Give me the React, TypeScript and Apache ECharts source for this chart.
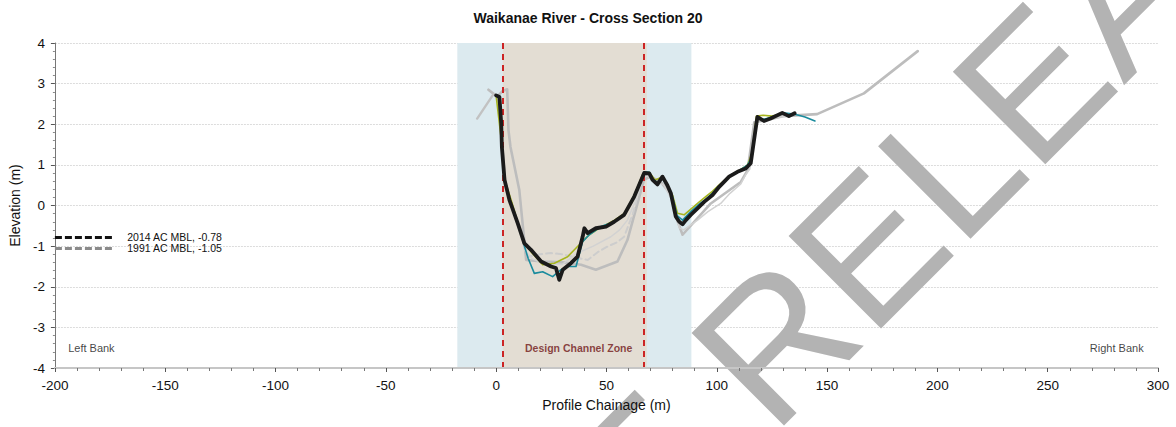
import React, { useEffect, useRef } from "react";
import * as echarts from "echarts";

const FONT = "'Liberation Sans', Arial, Helvetica, sans-serif";

// ---- data ----
const titleText = "Waikanae River - Cross Section 20";
const xAxisName = "Profile Chainage (m)";
const yAxisName = "Elevation (m)";

const survey2014: number[][] = [
  [0, 2.71], [1.5, 2.67], [2.3, 2.02], [2.6, 1.44], [3.8, 0.63], [6.0, 0.14], [9.8, -0.44],
  [12.8, -0.93], [15.8, -1.09], [20.4, -1.38], [24.9, -1.5], [27.1, -1.54], [28.6, -1.83],
  [30.2, -1.58], [33.9, -1.42], [36.9, -1.26], [39.2, -0.77], [40.0, -0.56], [41.5, -0.68],
  [45.2, -0.56], [49.8, -0.52], [53.5, -0.4], [58.0, -0.23], [62.6, 0.22], [67.1, 0.8],
  [69.4, 0.79], [70.9, 0.63], [73.1, 0.52], [75.4, 0.71], [77.6, 0.5], [79.2, 0.3],
  [81.4, -0.27], [83.0, -0.4], [84.5, -0.46], [86.0, -0.36], [88.2, -0.23], [91.3, -0.07],
  [94.3, 0.09], [98.1, 0.26], [101.1, 0.46], [105.6, 0.71], [109.4, 0.83], [113.1, 0.91],
  [115.4, 1.04], [118.4, 2.18], [121.4, 2.08], [124.4, 2.14], [129.7, 2.28], [132.7, 2.2],
  [135.3, 2.27],
];

const surveyTeal: number[][] = [
  [0, 2.7], [1.5, 2.65], [2.6, 1.4], [3.8, 0.6], [6.2, 0.1], [10, -0.45], [12.8, -1.0],
  [14.5, -1.3], [17.3, -1.67], [21.1, -1.63], [25.6, -1.75], [29.4, -1.58], [32.4, -1.5],
  [36.2, -1.5], [39.2, -0.89], [42.2, -0.72], [47.5, -0.52], [53.5, -0.4], [58, -0.23],
  [62.6, 0.25], [67.1, 0.83], [69.4, 0.82], [71, 0.65], [73.5, 0.55], [75.4, 0.68], [78, 0.45],
  [80, 0.2], [82, -0.25], [84.5, -0.36], [88.2, -0.15], [91.3, 0.0], [95, 0.15], [98, 0.3],
  [101, 0.48], [105.6, 0.72], [110, 0.85], [114, 1.0], [116, 1.2], [118.4, 2.15], [121.4, 2.12],
  [125, 2.18], [130, 2.28], [135, 2.25], [140, 2.18], [144.5, 2.08],
];

const surveyOlive: number[][] = [
  [0, 2.7], [2.6, 1.5], [4, 0.6], [7, 0.1], [10, -0.45], [13, -0.95], [16, -1.15],
  [21.1, -1.46], [26.4, -1.42], [32.4, -1.26], [36.9, -1.01], [42.2, -0.72], [47, -0.55],
  [53.5, -0.37], [58, -0.2], [62.6, 0.25], [66.5, 0.78], [69.4, 0.82], [72, 0.63], [75.4, 0.7],
  [78, 0.45], [80, 0.25], [82.2, -0.19], [85.2, -0.23], [88, -0.1], [91.3, 0.05], [95, 0.22],
  [98, 0.35], [101, 0.5], [105.6, 0.72], [110, 0.86], [114, 1.0], [116, 1.3], [118, 2.2],
  [121, 2.22], [125, 2.2], [130, 2.26], [133.5, 2.25],
];

const survey1991: number[][] = [
  [-3.5, 2.85], [0.5, 2.68], [3, 2.82], [5, 2.86], [5.6, 1.85], [6.5, 1.44], [10.5, 0.38],
  [13.6, -1.34], [21.1, -1.38], [30, -1.4], [38.5, -1.46], [45.2, -1.58], [55, -1.38],
  [59.5, -0.85], [67, 0.63], [70, 0.72], [75, 0.55], [79, 0.3], [82, -0.35], [84.5, -0.72],
  [97.3, 0.05], [110.9, 0.58], [114, 0.87], [117, 2.05], [122, 2.1], [130, 2.2], [145.5, 2.25],
  [166.7, 2.76], [191.1, 3.8],
];

const surveyGreyLeft: number[][] = [
  [-8.6, 2.14], [-1.2, 2.74], [1, 2.66], [2.8, 1.45], [4.2, 0.55], [7, 0.0], [10, -0.5], [13, -1.0],
];

const surveyGreyDashed: number[][] = [
  [12.5, -1.0], [14.3, -1.26], [20, -1.2], [24.9, -1.17], [30, -1.2], [36, -1.28], [41.5, -1.34],
  [46, -1.15], [50.5, -1.01], [55, -0.9], [58, -0.77], [62, -0.2], [65.6, 0.55], [67, 0.7],
];

const surveyGreyThin: number[][] = [
  [13, -1.1], [16, -1.3], [22, -1.45], [30, -1.45], [36.9, -1.17], [44, -1.0], [52, -0.77],
  [56, -0.6], [59.5, -0.36], [63, 0.1], [66, 0.6], [68, 0.75], [72, 0.6], [76, 0.5], [80, 0.1],
  [83, -0.55], [85, -0.6], [91.3, -0.36], [96, -0.15], [101.8, 0.05], [106, 0.3], [110.9, 0.53],
  [113, 0.75], [115, 0.9], [117, 1.6], [118.5, 2.1], [125, 2.15], [132, 2.2],
];

const floodZone = [-17.6, 88.5];
const designZone = [3.0, 68.3];
const designLines = [3.2, 67.0];

const mblLevels = [-0.78, -1.05];
const mblLabels = ["2014 AC MBL, -0.78", "1991 AC MBL, -1.05"];
const mblExtent = [-200, -174];

const bankLabels = ["Left Bank", "Right Bank"];
const bankPoints: number[][] = [[-194, -3.5], [293.5, -3.5]];
const zoneLabel = "Design Channel Zone";
const zoneLabelPoint = [37.4, -3.5];

const watermarkText = "E RELEASED";

export default function App() {
  const ref = useRef<HTMLDivElement>(null);

  useEffect(() => {
    if (!ref.current) return;
    const chart = echarts.init(ref.current, undefined, { renderer: "svg" });

    const line = (
      name: string,
      data: number[][],
      color: string,
      width: number,
      z: number,
      type: any = "solid"
    ) => ({
      type: "line",
      name,
      data,
      symbol: "none",
      showSymbol: false,
      silent: true,
      z,
      lineStyle: { color, width, type, join: "round", cap: "round" },
    });

    const option: any = {
      animation: false,
      backgroundColor: "#ffffff",
      textStyle: { fontFamily: FONT },
      title: {
        text: titleText,
        left: "center",
        top: 6,
        textStyle: { fontFamily: FONT, fontSize: 14, fontWeight: "bold", color: "#111" },
      },
      grid: { left: 53, right: 18, top: 43, bottom: 59 },
      xAxis: {
        type: "value",
        min: -200,
        max: 300,
        interval: 50,
        z: 10,
        name: xAxisName,
        nameLocation: "middle",
        nameGap: 30,
        nameTextStyle: { fontFamily: FONT, fontSize: 14, color: "#111" },
        axisLine: { show: true, onZero: false, lineStyle: { color: "#c6c6c6", width: 2 } },
        axisTick: { show: true, length: 4, lineStyle: { color: "#555" } },
        minorTick: { show: true, splitNumber: 5, length: 3, lineStyle: { color: "#777" } },
        axisLabel: { fontFamily: FONT, fontSize: 13.5, color: "#111", margin: 10 },
        splitLine: { show: false },
      },
      yAxis: {
        type: "value",
        min: -4,
        max: 4,
        interval: 1,
        name: yAxisName,
        nameLocation: "middle",
        nameGap: 32,
        nameTextStyle: { fontFamily: FONT, fontSize: 14, color: "#111" },
        axisLine: { show: true, onZero: false, lineStyle: { color: "#777", width: 1 } },
        axisTick: { show: true, length: 4, lineStyle: { color: "#555" } },
        minorTick: { show: true, splitNumber: 5, length: 2, lineStyle: { color: "#888" } },
        axisLabel: { fontFamily: FONT, fontSize: 13.5, color: "#111", margin: 10 },
        splitLine: { show: true, lineStyle: { color: "#dcdcdc", type: [2, 1] } },
      },
      graphic: [
        {
          type: "text",
          x: 599.3,
          y: 516.7,
          rotation: Math.PI / 4,
          z: 5,
          silent: true,
          style: {
            text: watermarkText,
            font: `190px ${FONT}`,
            fill: "#b3b3b3",
            align: "left",
            verticalAlign: "middle",
            textAlign: "left",
            textVerticalAlign: "middle",
          },
        },
      ],
      series: [
        {
          type: "line",
          data: [],
          silent: true,
          z: 1,
          markArea: {
            silent: true,
            itemStyle: { color: "#dceaef" },
            data: [[{ xAxis: floodZone[0] }, { xAxis: floodZone[1] }]],
          },
        },
        {
          type: "line",
          data: [],
          silent: true,
          z: 1,
          markArea: {
            silent: true,
            itemStyle: { color: "#e3ddd3" },
            data: [[{ xAxis: designZone[0] }, { xAxis: designZone[1] }]],
          },
          markLine: {
            silent: true,
            symbol: "none",
            label: { show: false },
            lineStyle: { color: "#cc2424", width: 2, type: [6, 5] },
            data: designLines.map((v) => ({ xAxis: v })),
          },
        },
        line("1991 (old)", survey1991, "#bdbdbd", 2.6, 3),
        line("grey left", surveyGreyLeft, "#c2c2c2", 2.4, 3),
        line("grey dashed", surveyGreyDashed, "#cdcdcd", 2, 3, [6, 4]),
        line("grey thin", surveyGreyThin, "#d2d2d2", 1.5, 3),
        line("olive", surveyOlive, "#a6b41e", 1.6, 4),
        line("teal", surveyTeal, "#1a8b9d", 1.6, 4),
        line("2014", survey2014, "#1b1b1b", 3.8, 6),
        {
          type: "line",
          data: [],
          silent: true,
          z: 6,
          markLine: {
            silent: true,
            symbol: "none",
            label: {
              show: true,
              position: "end",
              distance: 15,
              fontFamily: FONT,
              fontSize: 10.5,
              color: "#111",
              formatter: (p: any) => p.name,
            },
            data: [
              [
                { name: mblLabels[0], coord: [mblExtent[0], mblLevels[0]] },
                { coord: [mblExtent[1], mblLevels[0]] },
              ],
              [
                { name: mblLabels[1], coord: [mblExtent[0], mblLevels[1]] },
                { coord: [mblExtent[1], mblLevels[1]] },
              ],
            ].map((d: any, i) => {
              d[0].lineStyle = {
                color: i === 0 ? "#111" : "#8a8a8a",
                width: 3,
                type: [7, 3],
              };
              return d;
            }),
          },
        },
        {
          type: "scatter",
          silent: true,
          symbolSize: 0,
          z: 7,
          data: [
            { value: bankPoints[0], name: bankLabels[0], label: { position: "right" } },
            { value: bankPoints[1], name: bankLabels[1], label: { position: "left" } },
          ],
          label: {
            show: true,
            distance: 0,
            fontFamily: FONT,
            fontSize: 11,
            color: "#111",
            formatter: (p: any) => p.name,
          },
        },
        {
          type: "scatter",
          silent: true,
          symbolSize: 0,
          z: 7,
          data: [{ value: zoneLabelPoint, name: zoneLabel }],
          label: {
            show: true,
            position: "inside",
            fontFamily: FONT,
            fontSize: 10.5,
            fontWeight: "bold",
            color: "#701616",
            formatter: (p: any) => p.name,
          },
        },
      ],
    };

    chart.setOption(option);
    return () => chart.dispose();
  }, []);

  return (
    <div
      ref={ref}
      style={{ position: "fixed", left: 0, top: 0, width: 1176, height: 427, background: "#fff" }}
    />
  );
}
